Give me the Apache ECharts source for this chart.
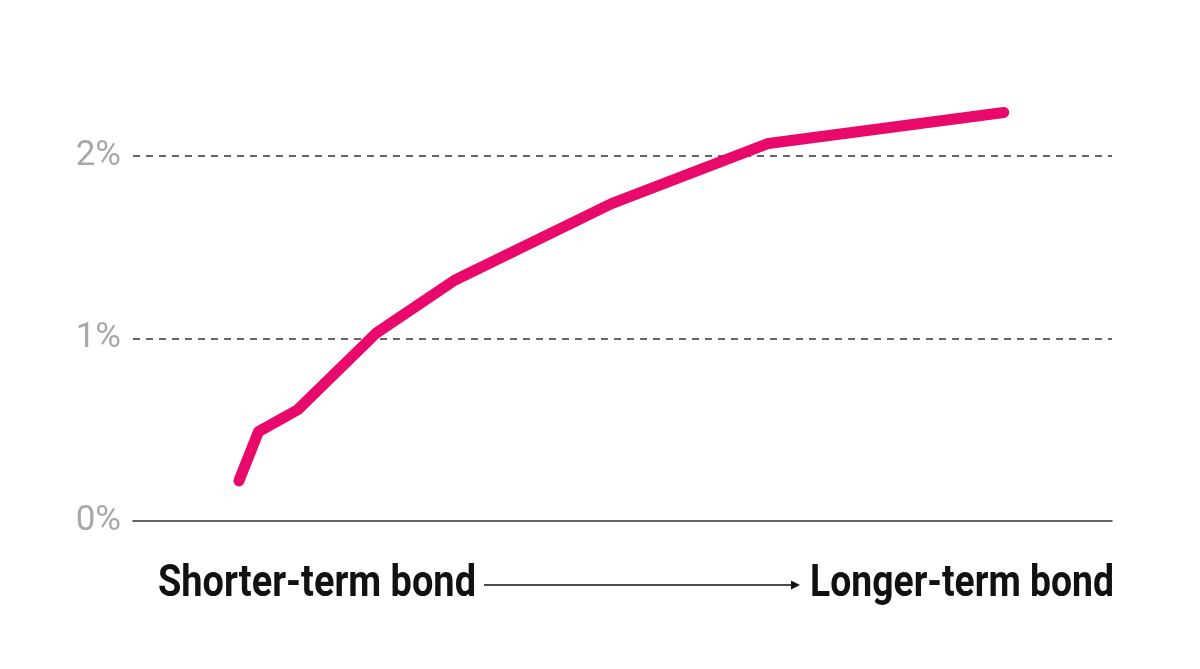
<!DOCTYPE html>
<html>
<head>
<meta charset="utf-8">
<style>
html,body{margin:0;padding:0;background:#fff;}
#chart{width:1200px;height:669px;}
</style>
<script src="https://cdn.jsdelivr.net/npm/echarts@6/dist/echarts.min.js"></script>
</head>
<body>
<div id="chart"></div>
<script>
// Maturity in years (3mo, 6mo, 1y, 2y, 3y, 5y, 7y, 10y)
const maturities = [0.25, 0.5, 1, 2, 3, 5, 7, 10];
// Yield in percent
const yields = [0.22, 0.49, 0.61, 1.03, 1.32, 1.74, 2.07, 2.24];
const yTicks = [0, 1, 2];
const leftLabel = 'Shorter-term bond';
const rightLabel = 'Longer-term bond';

const labelFont = 'bold 44px Roboto, "DejaVu Sans", sans-serif';
function fitScale(text, target) {
  const c = document.createElement('canvas').getContext('2d');
  c.font = labelFont;
  return target / c.measureText(text).width;
}
const sLeft = fitScale(leftLabel, 318);
const sRight = fitScale(rightLabel, 304);

const chart = echarts.init(document.getElementById('chart'));
chart.setOption({
  animation: false,
  backgroundColor: '#fff',
  grid: { left: 133, right: 88, top: 65, bottom: 148 },
  xAxis: {
    type: 'value',
    min: -1.1,
    max: 11.38,
    axisLine: { show: true, lineStyle: { color: '#333', width: 1.5 } },
    axisTick: { show: false },
    axisLabel: { show: false },
    splitLine: { show: false }
  },
  yAxis: {
    type: 'value',
    min: 0,
    max: 2.5,
    interval: 1,
    axisLine: { show: false },
    axisTick: { show: false },
    axisLabel: {
      margin: 12,
      color: '#a8a8a8',
      fontSize: 35,
      fontFamily: 'Roboto, sans-serif',
      formatter: function (v) { return yTicks.indexOf(v) >= 0 ? v + '%' : ''; }
    },
    splitLine: {
      show: true,
      showMinLine: false,
      showMaxLine: false,
      lineStyle: { color: '#333', width: 1.5, type: [7, 6] }
    }
  },
  series: [{
    type: 'line',
    data: maturities.map((m, i) => [m, yields[i]]),
    showSymbol: false,
    symbol: 'none',
    lineStyle: { color: '#e9096b', width: 11, cap: 'round', join: 'round' },
    z: 5
  }],
  graphic: [
    {
      type: 'text', x: 158, y: 585, scaleX: sLeft,
      style: { text: leftLabel, font: labelFont, fill: '#111', align: 'left', verticalAlign: 'middle' }
    },
    {
      type: 'text', x: 1114, y: 585, scaleX: sRight,
      style: { text: rightLabel, font: labelFont, fill: '#111', align: 'right', verticalAlign: 'middle' }
    },
    {
      type: 'line',
      shape: { x1: 484, y1: 585, x2: 797, y2: 585 },
      style: { stroke: '#111', lineWidth: 1.5 }
    },
    {
      type: 'polygon',
      shape: { points: [[791, 580.5], [800, 585], [791, 589.5]] },
      style: { fill: '#111' }
    }
  ]
});
</script>
</body>
</html>
